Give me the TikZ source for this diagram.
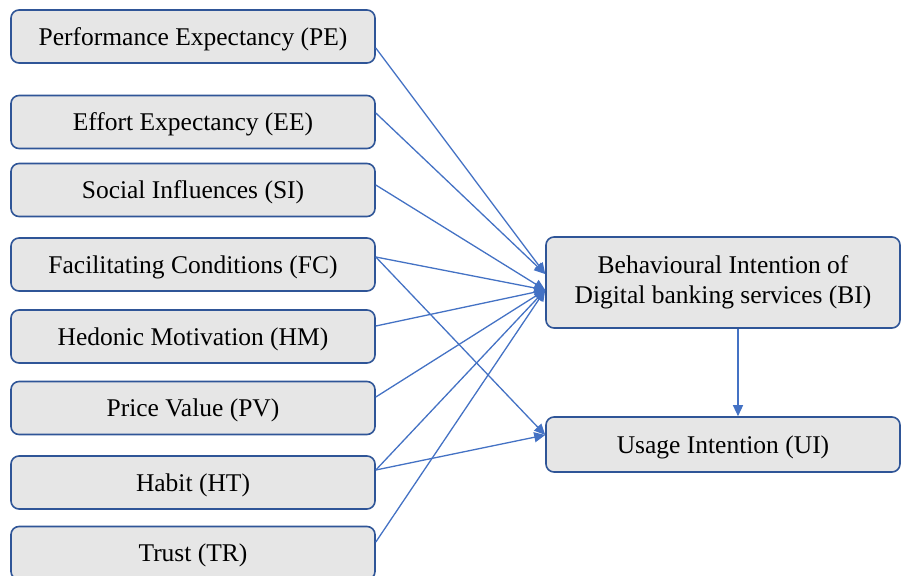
\documentclass[tikz,border=0pt]{standalone}
\usepackage{fontspec}
\setmainfont{Liberation Serif}
\usetikzlibrary{arrows.meta}
\definecolor{boxfill}{HTML}{E6E6E6}
\definecolor{boxdraw}{HTML}{2F5597}
\definecolor{arrowc}{HTML}{4472C4}
\newcommand{\dn}[1]{\raisebox{-2.5pt}[\height][\depth]{#1}}
\begin{document}
\begin{tikzpicture}[x=1pt,y=-1pt,
  box/.style={draw=boxdraw,line width=1.6pt,fill=boxfill,rounded corners=8pt,
    minimum width=364pt,minimum height=53pt,inner sep=0pt,align=center,
    font=\fontsize{25.5}{30}\selectfont},
  rbox/.style={box,minimum width=354pt},
  link/.style={draw=arrowc,line width=1.3pt,-{Triangle[length=11pt,width=10pt]}}]
\useasboundingbox (0,0) rectangle (901,575);
\clip (0,0) rectangle (901,575);
\node[box] (PE) at (193,36.5) {\dn{Performance Expectancy (PE)}};
\node[box] (EE) at (193,122) {\dn{Effort Expectancy (EE)}};
\node[box] (SI) at (193,190) {\dn{Social Influences (SI)}};
\node[box] (FC) at (193,264.5) {\dn{Facilitating Conditions (FC)}};
\node[box] (HM) at (193,336.5) {\dn{Hedonic Motivation (HM)}};
\node[box] (PV) at (193,408) {\dn{Price Value (PV)}};
\node[box] (HT) at (193,482.5) {\dn{Habit (HT)}};
\node[box] (TR) at (193,553) {\dn{Trust (TR)}};
\node[rbox,minimum height=91pt] (BI) at (723,282.5) {Behavioural Intention of\\Digital banking services (BI)};
\node[rbox,minimum height=55pt] (UI) at (723,444.5) {\dn{Usage Intention (UI)}};
\draw[link] ([yshift=-11.5pt]PE.east) -- ([yshift=8.5pt]BI.west);
\draw[link] ([yshift=9pt]EE.east) -- ([yshift=8.5pt]BI.west);
\draw[link] ([yshift=5pt]SI.east) -- ([yshift=-7.5pt]BI.west);
\draw[link] ([yshift=7.5pt]FC.east) -- ([yshift=-7.5pt]BI.west);
\draw[link] ([yshift=7.5pt]FC.east) -- ([yshift=9.5pt]UI.west);
\draw[link] ([yshift=10.5pt]HM.east) -- ([yshift=-7.5pt]BI.west);
\draw[link] ([yshift=11pt]PV.east) -- ([yshift=-7.5pt]BI.west);
\draw[link] ([yshift=12.5pt]HT.east) -- ([yshift=-7.5pt]BI.west);
\draw[link] ([yshift=12.5pt]HT.east) -- ([yshift=9.5pt]UI.west);
\draw[link] ([yshift=11pt]TR.east) -- ([yshift=-7.5pt]BI.west);
\draw[link] ([xshift=15pt]BI.south) -- ([xshift=15pt]UI.north);
\end{tikzpicture}
\end{document}
